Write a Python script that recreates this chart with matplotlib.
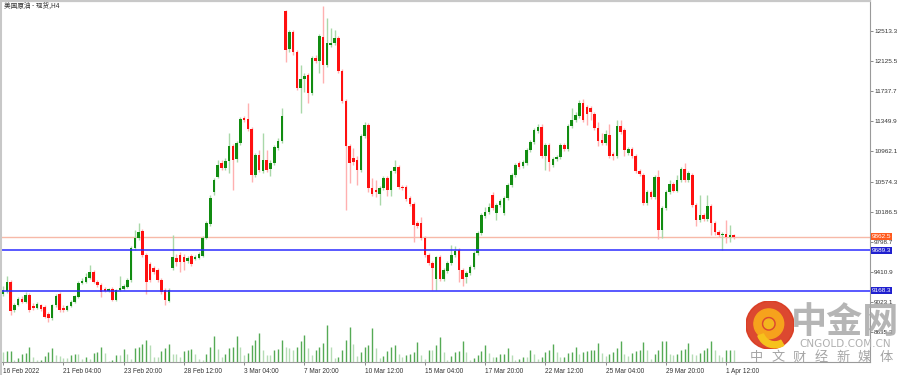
import numpy as np
import matplotlib
matplotlib.use('Agg')
import matplotlib.pyplot as plt
from matplotlib.patches import Circle, Wedge

plt.rcParams['font.family'] = ['Liberation Sans', 'Noto Sans CJK SC', 'DejaVu Sans']

# H4 candles, 美国原油 现货
opens = [9126, 9165, 9281, 8920, 8985, 9062, 9023, 9113, 8972, 8946, 8985, 8959, 8869, 8817, 8985,
         9126, 8946, 8920, 8972, 9023, 9088, 9268, 9281, 9332, 9410, 9281, 9242, 9191, 9165, 9191,
         9049, 9178, 9191, 9216, 9307, 9719, 9847, 9938, 9629, 9513, 9461, 9435, 9307, 9178, 9036,
         9461, 9590, 9629, 9603, 9551, 9616, 9577, 9590, 9616, 9847, 10028, 10440, 10633, 10814, 10749,
         10839, 11033, 10865, 11071, 11393, 11380, 11251, 10659, 10917, 10711, 10852, 10736, 10814, 11007, 11097,
         12771, 12282, 12501, 12243, 11780, 11896, 11947, 11715, 12166, 12127, 12436, 12076, 12333, 12359, 12424,
         11999, 11612, 11033, 10878, 10852, 10723, 11162, 11303, 10491, 10466, 10414, 10491, 10620, 10466, 10711,
         10762, 10504, 10504, 10362, 10285, 10041, 10041, 9847, 9629, 9526, 9319, 9603, 9319, 9423, 9526,
         9629, 9693, 9435, 9345, 9397, 9474, 9654, 9912, 10131, 10183, 10401, 10170, 10272, 10170, 10362,
         10530, 10659, 10814, 10775, 10814, 10981, 11084, 11226, 11277, 10904, 11046, 10788, 10865, 10891, 11046,
         10994, 11290, 11367, 11419, 11586, 11535, 11522, 11445, 11264, 11110, 11071, 11174, 10930, 10904, 11290,
         11239, 10942, 10994, 10904, 10711, 10659, 10298, 10440, 10375, 10633, 9951, 10234, 10440, 10543, 10453,
         10595, 10736, 10595, 10659, 10272, 10079, 10144, 10092, 10259, 10041, 9925, 9886, 9899, 9860, 9880]
highs = [9229, 9358, 9307, 9010, 9088, 9101, 9152, 9139, 9010, 9023, 8997, 8985, 8894, 8997, 9126,
         9152, 8985, 8985, 9049, 9113, 9294, 9332, 9397, 9500, 9435, 9307, 9268, 9216, 9204, 9216,
         9191, 9358, 9255, 9332, 9744, 9951, 10041, 9964, 9654, 9538, 9487, 9461, 9332, 9204, 9204,
         9886, 9641, 9667, 9641, 9616, 9641, 9629, 9667, 9873, 10067, 10401, 10620, 10852, 10852, 10878,
         11200, 11059, 11097, 11406, 11419, 11586, 11277, 10942, 10981, 11200, 10981, 10852, 11046, 11136, 11522,
         12784, 12527, 12527, 12269, 12076, 11973, 11973, 12192, 12205, 12475, 12836, 12681, 12552, 12527, 12449,
         12024, 11637, 11059, 11007, 10904, 11187, 11342, 11329, 10620, 10595, 10517, 10646, 10646, 10723, 10852,
         10788, 10530, 10530, 10388, 10311, 10067, 10118, 9873, 9654, 9551, 9616, 9629, 9461, 9551, 9757,
         9744, 9719, 9461, 9423, 9500, 9680, 9938, 10170, 10247, 10298, 10440, 10298, 10350, 10388, 10556,
         10685, 10814, 10839, 10852, 11007, 11110, 11264, 11316, 11316, 11071, 11071, 10891, 10917, 11071, 11071,
         11316, 11522, 11470, 11625, 11637, 11560, 11547, 11470, 11342, 11200, 11239, 11316, 10955, 11367, 11367,
         11264, 11020, 11020, 10930, 10736, 10685, 10466, 10466, 10659, 10723, 10259, 10466, 10595, 10569, 10659,
         10762, 10814, 10711, 10685, 10298, 10401, 10170, 10401, 10285, 10067, 9951, 9925, 10079, 10015, 9899]
lows = [9101, 9139, 8856, 8894, 8972, 9010, 9010, 8894, 8920, 8933, 8907, 8817, 8766, 8791, 8959,
        8894, 8894, 8907, 8959, 9010, 9075, 9255, 9268, 9319, 9268, 9216, 9088, 9152, 9152, 9036,
        9036, 9165, 9178, 9204, 9281, 9693, 9822, 9603, 9126, 9281, 9384, 9281, 9126, 8985, 9023,
        9435, 9487, 9410, 9435, 9526, 9487, 9564, 9577, 9603, 9835, 10002, 10401, 10620, 10723, 10723,
        10685, 10466, 10826, 11046, 11342, 11226, 10569, 10633, 10698, 10685, 10698, 10646, 10788, 10981, 11071,
        12114, 12243, 12205, 11754, 11458, 11728, 11586, 11689, 12102, 11973, 11844, 12050, 12308, 12333, 11973,
        11586, 10208, 10556, 10788, 10530, 10698, 11136, 10440, 10388, 10375, 10272, 10466, 10388, 10388, 10685,
        10478, 10466, 10324, 10259, 9796, 9976, 9822, 9603, 9500, 9178, 9178, 9294, 9294, 9397, 9500,
        9603, 9281, 9229, 9268, 9371, 9448, 9629, 9886, 10105, 10157, 10208, 10079, 10247, 10144, 10337,
        10504, 10633, 10736, 10749, 10788, 10955, 11059, 11200, 10878, 10723, 10711, 10762, 10839, 10865, 10968,
        10968, 11264, 11342, 11393, 11342, 11303, 11367, 11239, 11033, 11046, 11046, 10878, 10852, 10878, 11187,
        10904, 10917, 10878, 10685, 10646, 10272, 10272, 10350, 10350, 9835, 9847, 10208, 10414, 10440, 10440,
        10569, 10569, 10569, 10247, 10002, 10054, 10067, 10067, 9886, 9886, 9860, 9693, 9783, 9796, 9835]
closes = [9178, 9281, 8907, 8985, 9062, 9023, 9113, 8920, 8946, 8997, 8933, 8830, 8817, 8985, 9101,
          8920, 8920, 8972, 9023, 9101, 9268, 9294, 9345, 9410, 9281, 9242, 9152, 9165, 9191, 9049,
          9178, 9204, 9229, 9307, 9719, 9847, 9925, 9629, 9281, 9307, 9410, 9307, 9152, 9049, 9178,
          9603, 9538, 9538, 9538, 9590, 9513, 9603, 9641, 9847, 10041, 10362, 10595, 10788, 10749, 10839,
          11033, 10852, 11071, 11380, 11367, 11251, 10659, 10917, 10723, 10852, 10723, 10814, 11020, 11097, 11419,
          12269, 12501, 12243, 11780, 11896, 11934, 11715, 12166, 12127, 12449, 12076, 12359, 12359, 12424, 11999,
          11612, 11033, 10814, 10826, 10723, 11162, 11303, 10491, 10414, 10440, 10491, 10620, 10466, 10711, 10762,
          10504, 10491, 10350, 10285, 10015, 10002, 9847, 9629, 9526, 9461, 9603, 9319, 9435, 9526, 9629,
          9680, 9435, 9319, 9397, 9474, 9654, 9912, 10144, 10183, 10247, 10234, 10272, 10324, 10362, 10530,
          10659, 10788, 10762, 10826, 10981, 11084, 11239, 11277, 10904, 11046, 10826, 10865, 10891, 11046, 10994,
          11290, 11367, 11432, 11586, 11367, 11445, 11470, 11264, 11097, 11071, 11187, 10904, 10904, 11290, 11213,
          10981, 10994, 10904, 10711, 10672, 10298, 10440, 10375, 10633, 9951, 10234, 10440, 10543, 10453, 10595,
          10736, 10595, 10685, 10272, 10079, 10144, 10092, 10259, 10041, 9925, 9886, 9899, 9860, 9886, 9862.5]
volumes = [30, 32, 33, 7, 12, 22, 25, 44, 15, 5, 7, 17, 28, 42, 20, 17, 12, 12, 20, 24, 22, 10, 15, 10,
           27, 30, 44, 26, 4, 5, 19, 19, 39, 24, 10, 42, 45, 52, 65, 50, 14, 14, 32, 42, 52, 24, 24, 15,
           32, 34, 39, 22, 9, 5, 24, 44, 75, 39, 15, 24, 40, 44, 75, 45, 19, 25, 49, 65, 85, 35, 20, 19,
           36, 39, 65, 44, 40, 34, 45, 62, 80, 42, 21, 35, 44, 55, 107, 45, 12, 14, 35, 64, 102, 52, 17, 28,
           45, 49, 99, 42, 12, 17, 32, 44, 50, 24, 14, 20, 22, 28, 57, 20, 9, 35, 35, 49, 74, 30, 7, 17,
           30, 33, 60, 28, 7, 12, 20, 32, 49, 27, 14, 15, 22, 24, 42, 19, 7, 10, 14, 14, 36, 22, 10, 15,
           30, 35, 52, 29, 14, 16, 27, 30, 45, 22, 28, 32, 34, 35, 54, 27, 17, 22, 30, 40, 60, 24, 18, 27,
           32, 35, 57, 35, 10, 22, 34, 60, 62, 22, 19, 24, 34, 39, 54, 24, 19, 27, 34, 40, 60, 35, 20, 14,
           34, 36, 35]

date_labels = ['16 Feb 2022', '21 Feb 04:00', '23 Feb 20:00', '28 Feb 12:00', '3 Mar 04:00',
               '7 Mar 20:00', '10 Mar 12:00', '15 Mar 04:00', '17 Mar 20:00', '22 Mar 12:00',
               '25 Mar 04:00', '29 Mar 20:00', '1 Apr 12:00']
price_ticks = [12513.3, 12125.5, 11737.7, 11349.9, 10962.1, 10574.3, 10186.5,
               9798.7, 9410.9, 9023.1, 8635.3]
level_lines = [9689.3, 9168.3]
last_price = 9862.5

o = np.array(opens, dtype=float)
h = np.array(highs, dtype=float)
l = np.array(lows, dtype=float)
c = np.array(closes, dtype=float)
v = np.array(volumes, dtype=float)
x = np.arange(len(c))
up = c >= o

fig = plt.figure(figsize=(9.03, 3.75), dpi=100)
fig.patch.set_facecolor('white')
ax = fig.add_axes([2 / 903, 13 / 375, 868 / 903, 360 / 375])
ax.set_xlim(-0.3, 230.2)
ax.set_ylim(8250, 12887)

# volume overlay at the bottom
axv = ax.twinx()
axv.set_ylim(0, v.max() * 9.8)
vcol = ['#55aa55' if i > 0 and v[i] > v[i - 1] else '#b5dcb5' for i in range(len(v))]
axv.vlines(x, 0, v, colors=vcol, linewidth=1.0)
axv.axis('off')

# candles
ax.vlines(x[up], l[up], h[up], colors='#a9d8a9', linewidth=1.0, zorder=2)
ax.vlines(x[~up], l[~up], h[~up], colors='#ffb0b0', linewidth=1.0, zorder=2)
body_b = np.minimum(o, c)
body_h = np.maximum(np.abs(c - o), 10)
ax.bar(x[up], body_h[up], bottom=body_b[up], width=0.68, color='#118c11', zorder=3)
ax.bar(x[~up], body_h[~up], bottom=body_b[~up], width=0.68, color='#ff1010', zorder=3)

# level lines
ax.axhline(last_price, color='#f7b9a8', linewidth=1.0, zorder=1)
for lv in level_lines:
    ax.axhline(lv, color='#2b2bff', linewidth=1.1, zorder=4)

ax.text(480, 9405, 'W底', fontsize=8, color='#a06a3c', family=['Noto Sans CJK SC'],
        va='center', ha='left')

# axes look
for s in ['top', 'left']:
    ax.spines[s].set_visible(False)
ax.spines['right'].set_color('#9a9a9a')
ax.spines['bottom'].set_color('#9a9a9a')
ax.yaxis.tick_right()
ax.set_yticks(price_ticks)
ax.set_yticklabels(['%.1f' % p for p in price_ticks])
ax.tick_params(axis='y', length=2, width=0.6, color='#777777', labelsize=4.6,
               labelcolor='#333333', pad=1)
ax.set_xticks(np.arange(len(date_labels)) * 16)
ax.set_xticklabels(date_labels, ha='left')
ax.tick_params(axis='x', length=2.5, width=0.6, color='#777777', labelsize=4.7,
               labelcolor='#333333', pad=1.5)

# right side price boxes
tr = ax.get_yaxis_transform()
for lv in level_lines:
    ax.text(1.002, lv, '%.1f' % lv, transform=tr, fontsize=4.6, color='white', va='center',
            ha='left', bbox=dict(boxstyle='square,pad=0.15', fc='#1f1fcf', ec='none'),
            clip_on=False, zorder=10)
ax.text(1.002, last_price, '%.1f' % last_price, transform=tr, fontsize=4.6, color='white',
        va='center', ha='left', bbox=dict(boxstyle='square,pad=0.15', fc='#ff5a1e', ec='none'),
        clip_on=False, zorder=10)

# title
fig.text(4 / 903, 1 - 6 / 375, '美国原油 - 现货,H4', fontsize=4.8, color='#333333',
         family=['Noto Sans CJK SC', 'DejaVu Sans'], va='center', ha='left')

# frame bits
fig.add_artist(plt.Line2D([0.5 / 903, 0.5 / 903], [0, 1], color='#c8c8c8', linewidth=2.2))
fig.add_artist(plt.Line2D([0, 870 / 903], [1 - 0.5 / 375, 1 - 0.5 / 375], color='#c8c8c8',
                          linewidth=1.6))

# watermark
lax = fig.add_axes([746 / 903, (375 - 349) / 375, 48 / 903, 48 / 375])
lax.set_xlim(-1, 1)
lax.set_ylim(-1, 1)
lax.set_aspect('equal')
lax.axis('off')
lax.add_patch(Circle((0, 0), 1.0, color='#d9381e', alpha=0.92))
lax.add_patch(Wedge((-0.05, 0.05), 0.62, 0, 360, width=0.3, color='#f6a21c'))
lax.add_patch(Wedge((0.2, -0.2), 0.75, 200, 300, width=0.25, color='#f6c21c'))
lax.add_patch(Circle((-0.05, 0.05), 0.2, color='#f3b51e'))

fig.text(845 / 903, 1 - 322 / 375, '中金网', fontsize=26, color='#a8a8a8', alpha=0.85,
         family=['Noto Sans CJK SC'], fontweight='bold', ha='center', va='center')
fig.text(845 / 903, 1 - 344 / 375, 'CNGOLD.COM.CN', fontsize=7.5, color='#b0b0b0',
         family=['DejaVu Sans'], ha='center', va='center')
for k, ch in enumerate('中文财经新媒体'):
    fig.text((756 + k * 21.7) / 903, 1 - 358 / 375, ch, fontsize=9.5, color='#a5a5a5',
             family=['Noto Sans CJK SC'], ha='center', va='center')

fig.savefig('out.png', dpi=100, facecolor='white')
